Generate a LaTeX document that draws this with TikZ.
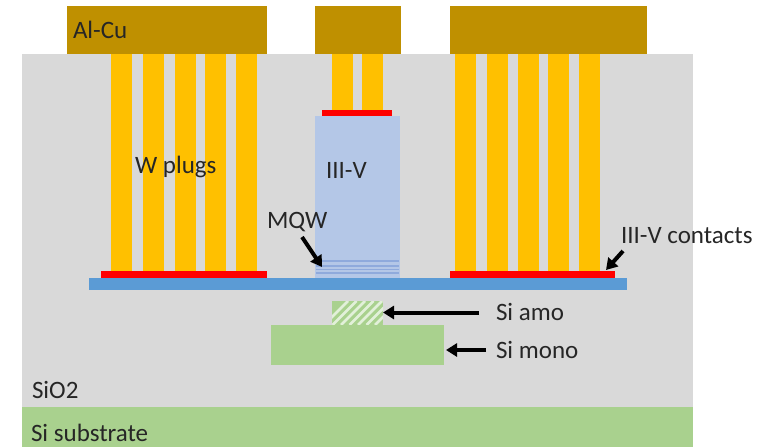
\documentclass[tikz,border=0pt]{standalone}
\usepackage{fontspec}
\setmainfont{Carlito}
\usetikzlibrary{arrows.meta}
\definecolor{oxide}{HTML}{D9D9D9}
\definecolor{metal}{HTML}{BF9000}
\definecolor{plug}{HTML}{FFC000}
\definecolor{contact}{HTML}{FF0000}
\definecolor{bluelayer}{HTML}{5B9BD5}
\definecolor{threefive}{HTML}{B4C7E7}
\definecolor{qw}{HTML}{8FAADC}
\definecolor{sigreen}{HTML}{A9D18E}
\definecolor{hatchlight}{HTML}{E2F0D9}
\tikzset{
  x=1pt,y=-1pt,
  block/.style={rectangle,inner sep=0pt,outer sep=0pt,anchor=north west},
  label/.style={inner sep=0pt,outer sep=0pt,anchor=west,font=\fontsize{25}{27}\selectfont,text=black!85},
  pointer/.style={draw=black,line width=4pt,-{Triangle[length=11pt,width=13pt]},shorten >=0pt,shorten <=0pt}
}
% \rect{name}{x0}{y0}{x1}{y1}{colour}
\newcommand{\rect}[6]{%
  \pgfmathsetmacro{\rw}{#4-#2}\pgfmathsetmacro{\rh}{#5-#3}%
  \node[block,fill=#6,minimum width=\rw pt,minimum height=\rh pt] (#1) at (#2,#3) {};}
\begin{document}
\begin{tikzpicture}
\useasboundingbox (0,0) rectangle (765,447);
\rect{oxide}{22}{54}{693}{407}{oxide}
\rect{substrate}{22}{407}{693}{447}{sigreen}
% metal pads
\rect{padA}{67}{6}{267}{54}{metal}
\rect{padB}{315}{6}{401}{54}{metal}
\rect{padC}{450}{6}{647}{54}{metal}
% plugs
\rect{pA1}{111}{54}{132}{271}{plug}
\rect{pA2}{143}{54}{164}{271}{plug}
\rect{pA3}{175}{54}{196}{271}{plug}
\rect{pA4}{205}{54}{226}{271}{plug}
\rect{pA5}{236}{54}{257}{271}{plug}
\rect{pB1}{332}{54}{353}{110}{plug}
\rect{pB2}{362}{54}{383}{110}{plug}
\rect{pC1}{455}{54}{476}{271}{plug}
\rect{pC2}{487}{54}{508}{271}{plug}
\rect{pC3}{518}{54}{539}{271}{plug}
\rect{pC4}{548}{54}{569}{271}{plug}
\rect{pC5}{579}{54}{600}{271}{plug}
% III-V stack
\rect{stack}{315}{116}{400}{278}{threefive}
\rect{mqwA}{316}{259.5}{399}{261.5}{qw}
\rect{mqwB}{316}{265}{399}{266.5}{qw}
\rect{mqwC}{316}{268.5}{399}{270}{qw}
\rect{mqwD}{316}{272}{399}{273.5}{qw}
% contacts and bonding layer
\rect{cTop}{322}{110}{392}{116}{contact}
\rect{cLeft}{101}{271}{267}{277.5}{contact}
\rect{cRight}{450}{271}{615}{277.5}{contact}
\rect{bond}{89}{278}{627}{290}{bluelayer}
% silicon
\rect{amo}{332}{301}{383}{325}{sigreen}
\begin{scope}
  \clip (332,301) rectangle (383,325);
  \foreach \s in {0,8.5,...,85}
    \draw[hatchlight,line width=2.6pt] (324+\s,325) -- (324+\s+24,301);
\end{scope}
\rect{mono}{271}{325}{444}{365}{sigreen}
% labels
\node[label] (tAl) at (73,30) {Al-Cu};
\node[label] (tW) at (135,167) {W plugs};
\node[label] (tIII) at (326,170) {III-V};
\node[label] (tMQW) at (267,222) {MQW};
\node[label] (tCont) at (621,236) {III-V contacts};
\node[label] (tAmo) at (496,312) {Si amo};
\node[label] (tMono) at (496,350) {Si mono};
\node[label,anchor=base west] (tSiO) at (32,398) {SiO2};
\node[label,anchor=base west] (tSub) at (31,441) {Si substrate};
% arrow end coordinates
\coordinate (mqwTail) at (302,237);
\coordinate (mqwTip) at (322,267);
\coordinate (contTail) at (623,251);
\coordinate (contTip) at (606,270);
\coordinate (amoTail) at (479,312.5);
\coordinate (monoTail) at (486,350);
\draw[pointer] (mqwTail) -- (mqwTip);
\draw[pointer] (contTail) -- (contTip);
\draw[pointer] (amoTail) -- (amo.east |- amoTail);
\draw[pointer] (monoTail) -- ([xshift=2pt]mono.east |- monoTail);
\end{tikzpicture}
\end{document}
